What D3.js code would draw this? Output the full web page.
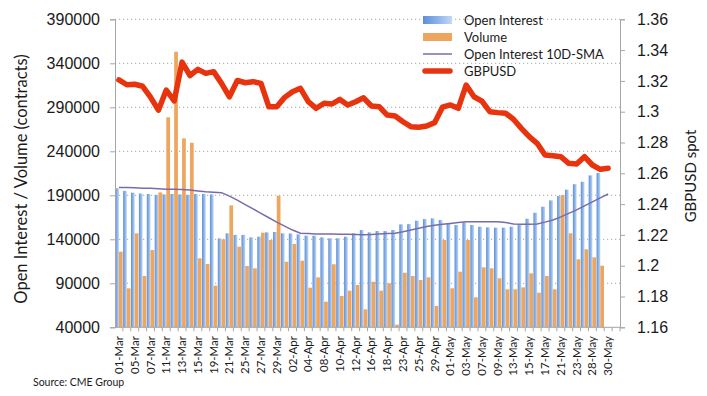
<!DOCTYPE html>
<html>
<head>
<meta charset="utf-8">
<script src="https://cdn.jsdelivr.net/npm/d3@7"></script>
<style>
  html, body { margin: 0; padding: 0; background: #fff; }
  svg { display: block; font-family: Lato, "Open Sans", sans-serif; }
</style>
</head>
<body>
<svg id="chart" width="707" height="396"></svg>
<script>
// --- Data ---
const dates = ["01-Mar","04-Mar","05-Mar","06-Mar","07-Mar","08-Mar","11-Mar","12-Mar","13-Mar","14-Mar","15-Mar","18-Mar","19-Mar","20-Mar","21-Mar","22-Mar","25-Mar","26-Mar","27-Mar","28-Mar","29-Mar",
  "01-Apr","02-Apr","03-Apr","04-Apr","05-Apr","08-Apr","09-Apr","10-Apr","11-Apr","12-Apr","15-Apr","16-Apr","17-Apr","18-Apr","22-Apr","23-Apr","24-Apr","25-Apr","26-Apr","29-Apr","30-Apr",
  "01-May","02-May","03-May","06-May","07-May","08-May","09-May","10-May","13-May","14-May","15-May","16-May","17-May","20-May","21-May","22-May","23-May","24-May","28-May","29-May","30-May","31-May"];

const openInterest = [198000,195000,193000,192000,191500,190500,191000,191500,191000,190500,191500,191500,191000,141000,146800,145000,145000,142200,143000,147900,148300,
  146800,146600,145600,144100,144100,142200,141100,141100,142900,146800,150500,147900,149400,149400,150500,157000,157300,161100,163000,163800,161900,
  158100,156200,159300,156200,154300,153600,153200,153200,154300,156200,163400,170200,177000,184200,189200,196400,202600,205400,212600,215300];

const volume = [125900,84300,146800,98300,127800,193300,278600,353100,254700,249700,118400,111900,87300,140000,178500,131600,109600,107000,147500,139200,189500,
  114500,134600,115700,85000,96800,69100,111600,75600,81600,88100,60400,91800,81600,90000,43000,102000,98300,93700,96800,64200,139200,
  84300,103200,139200,74100,108200,107000,95700,83200,83200,85400,101300,79300,98300,83200,190300,146800,117200,128600,119500,110000];

const oiSma = [199000,199000,198500,198000,198000,197500,197000,197000,196500,196000,195000,194000,193500,193000,189000,184500,179500,174500,169500,164500,159500,
  155000,150500,146800,146500,146000,146000,146000,145800,145600,145500,145300,145500,146000,146500,147000,148500,150500,152500,154500,156000,157000,
  158000,159000,160000,160000,160000,160000,160000,159000,157500,157000,157000,157500,159500,162000,165500,169500,173500,178000,182500,187000,191500];

const gbpusd = [1.3206,1.3175,1.3178,1.3165,1.3095,1.3010,1.3141,1.3070,1.3322,1.3235,1.3275,1.3249,1.3260,1.3184,1.3097,1.3203,1.3188,1.3195,1.3184,1.3032,1.3032,
  1.3093,1.3130,1.3152,1.3065,1.3022,1.3055,1.3050,1.3080,1.3044,1.3065,1.3090,1.3037,1.3032,1.2978,1.2972,1.2935,1.2903,1.2899,1.2907,1.2929,1.3029,
  1.3044,1.3022,1.3173,1.3097,1.3069,1.3000,1.2994,1.2990,1.2951,1.2892,1.2838,1.2795,1.2719,1.2714,1.2708,1.2665,1.2660,1.2708,1.2654,1.2626,1.2633];

const leftTicks = [40000,90000,140000,190000,240000,290000,340000,390000];
const rightTicks = [1.16,1.18,1.2,1.22,1.24,1.26,1.28,1.3,1.32,1.34,1.36];
const legendItems = ["Open Interest","Volume","Open Interest 10D-SMA","GBPUSD"];

// --- Layout ---
const svg = d3.select("#chart");
const plot = { left: 115, right: 620, top: 19.3, bottom: 327.3 };

const x = d3.scaleBand().domain(dates).range([plot.left, plot.right]).padding(0);
const xSub = d3.scaleBand().domain(["oi", "vol"]).range([0, x.bandwidth()]).paddingOuter(0.06).paddingInner(0);
const yLeft = d3.scaleLinear().domain([40000, 390000]).range([plot.bottom, plot.top]);
const yRight = d3.scaleLinear().domain([1.16, 1.36]).range([plot.bottom, plot.top]);
const cx = (i) => x(dates[i]) + x.bandwidth() / 2;

const axisColor = "#a6a6a6";
const textColor = "#1a1a1a";

// gradient for the open interest columns
const defs = svg.append("defs");
const grad = defs.append("linearGradient").attr("id", "oiGrad").attr("x1", "0").attr("x2", "1").attr("y1", "0").attr("y2", "0");
grad.append("stop").attr("offset", "0%").attr("stop-color", "#5d8fd8");
grad.append("stop").attr("offset", "55%").attr("stop-color", "#8fb6ea");
grad.append("stop").attr("offset", "100%").attr("stop-color", "#c3d8f4");

// --- Gridlines ---
svg.append("g")
  .selectAll("line")
  .data(leftTicks.slice(1))
  .enter()
  .append("line")
  .attr("x1", plot.left)
  .attr("x2", plot.right)
  .attr("y1", (d) => yLeft(d))
  .attr("y2", (d) => yLeft(d))
  .attr("stroke", "#b8b8b8")
  .attr("stroke-width", 1.2)
  .attr("stroke-dasharray", "1.2,2.8");

// --- Columns ---
svg.append("g")
  .selectAll("rect")
  .data(openInterest)
  .enter()
  .append("rect")
  .attr("x", (d, i) => x(dates[i]) + xSub("oi"))
  .attr("y", (d) => yLeft(d))
  .attr("width", xSub.bandwidth())
  .attr("height", (d) => yLeft(40000) - yLeft(d))
  .attr("fill", "url(#oiGrad)");

svg.append("g")
  .selectAll("rect")
  .data(volume)
  .enter()
  .append("rect")
  .attr("x", (d, i) => x(dates[i]) + xSub("vol"))
  .attr("y", (d) => yLeft(d))
  .attr("width", xSub.bandwidth())
  .attr("height", (d) => yLeft(40000) - yLeft(d))
  .attr("fill", "#eea65e");

// --- Lines ---
const smaLine = d3.line().x((d, i) => cx(i)).y((d) => yLeft(d));
svg.append("path")
  .datum(oiSma)
  .attr("d", smaLine)
  .attr("fill", "none")
  .attr("stroke", "#7a6ba8")
  .attr("stroke-width", 1.5);

const fxLine = d3.line().x((d, i) => cx(i)).y((d) => yRight(d));
svg.append("path")
  .datum(gbpusd)
  .attr("d", fxLine)
  .attr("fill", "none")
  .attr("stroke", "#e8330f")
  .attr("stroke-width", 5.5)
  .attr("stroke-linejoin", "round")
  .attr("stroke-linecap", "round");

// --- Axes ---
const leftAxis = svg.append("g")
  .attr("transform", `translate(${plot.left},0)`)
  .call(d3.axisLeft(yLeft).tickValues(leftTicks).tickFormat(d3.format("d")).tickSize(5).tickPadding(10));
leftAxis.select(".domain").attr("stroke", axisColor);
leftAxis.selectAll(".tick line").attr("stroke", axisColor);
leftAxis.selectAll(".tick text").attr("fill", textColor).style("font-size", "16px");

const rightAxis = svg.append("g")
  .attr("transform", `translate(${plot.right},0)`)
  .call(d3.axisRight(yRight).tickValues(rightTicks).tickFormat((d) => String(+d.toFixed(2))).tickSize(5).tickPadding(12));
rightAxis.select(".domain").attr("stroke", axisColor);
rightAxis.selectAll(".tick line").attr("stroke", axisColor);
rightAxis.selectAll(".tick text").attr("fill", textColor).style("font-size", "16px");

// category axis: base line, ticks at every category boundary, labels on every other date
svg.append("line")
  .attr("x1", plot.left).attr("x2", plot.right)
  .attr("y1", plot.bottom).attr("y2", plot.bottom)
  .attr("stroke", axisColor);

svg.append("g")
  .selectAll("line")
  .data(dates)
  .enter()
  .append("line")
  .attr("x1", (d) => x(d) + x.bandwidth())
  .attr("x2", (d) => x(d) + x.bandwidth())
  .attr("y1", plot.bottom)
  .attr("y2", plot.bottom + 4)
  .attr("stroke", axisColor);

svg.append("g")
  .selectAll("text")
  .data(dates.filter((d, i) => i % 2 === 0))
  .enter()
  .append("text")
  .attr("transform", (d) => `translate(${x(d) + x.bandwidth() / 2 + 4},336) rotate(-90)`)
  .attr("text-anchor", "end")
  .attr("fill", textColor)
  .style("font-size", "11.5px")
  .text((d) => d);

// --- Axis titles ---
svg.append("text")
  .attr("transform", "translate(27,179) rotate(-90)")
  .attr("text-anchor", "middle")
  .attr("fill", textColor)
  .style("font-size", "16.5px")
  .text("Open Interest / Volume (contracts)");

svg.append("text")
  .attr("transform", "translate(696,176) rotate(-90)")
  .attr("text-anchor", "middle")
  .attr("fill", textColor)
  .style("font-size", "15px")
  .text("GBPUSD spot");

// --- Legend ---
const legend = svg.append("g").attr("transform", "translate(423,0)");
const rowY = [20, 37, 54, 71];

legend.append("rect").attr("x", 0).attr("y", rowY[0] - 4).attr("width", 29).attr("height", 8).attr("fill", "url(#oiGrad)");
legend.append("rect").attr("x", 0).attr("y", rowY[1] - 4).attr("width", 29).attr("height", 8).attr("fill", "#eea65e");
legend.append("line").attr("x1", 0).attr("x2", 29).attr("y1", rowY[2]).attr("y2", rowY[2]).attr("stroke", "#7a6ba8").attr("stroke-width", 1.5);
legend.append("line").attr("x1", 2).attr("x2", 27).attr("y1", rowY[3]).attr("y2", rowY[3]).attr("stroke", "#e8330f").attr("stroke-width", 5.5).attr("stroke-linecap", "round");

legend.selectAll("text.item")
  .data(legendItems)
  .enter()
  .append("text")
  .attr("class", "item")
  .attr("x", 41)
  .attr("y", (d, i) => rowY[i] + 5)
  .attr("fill", textColor)
  .style("font-size", "13px")
  .text((d) => d);

// --- Source note ---
svg.append("text")
  .attr("x", 33)
  .attr("y", 386)
  .attr("fill", textColor)
  .style("font-size", "10.5px")
  .text("Source: CME Group");
</script>
</body>
</html>
